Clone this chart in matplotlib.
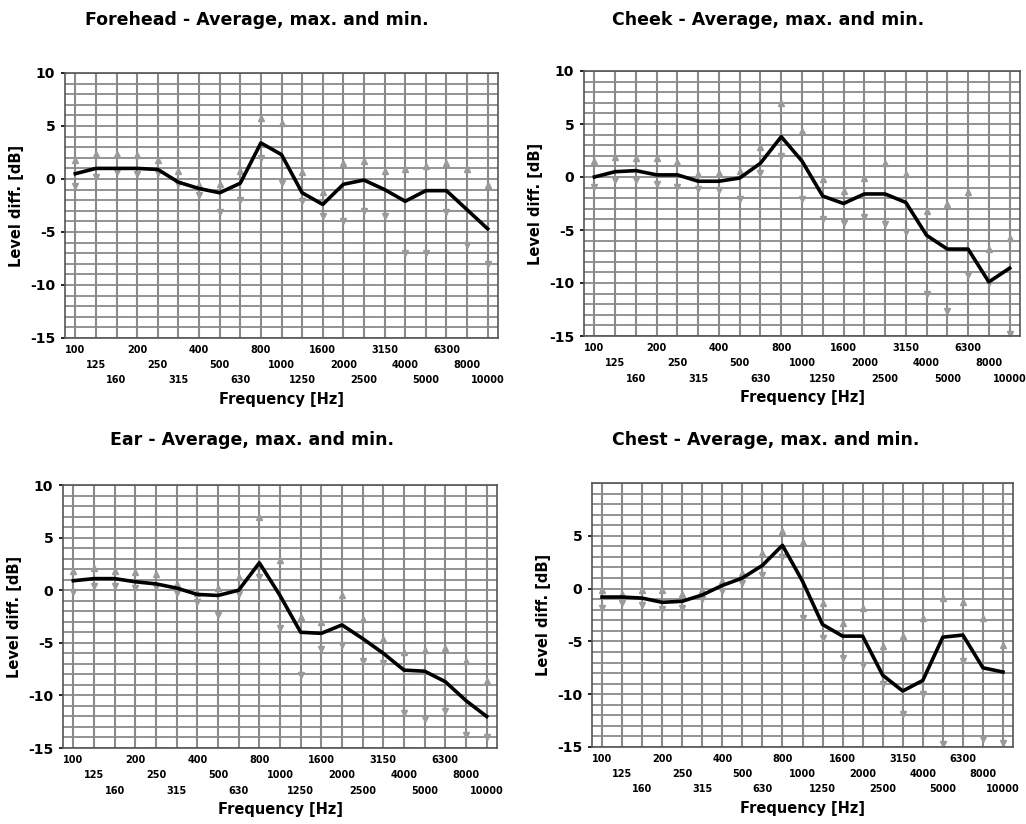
import matplotlib

matplotlib.use("Agg")
import matplotlib.pyplot as plt
import numpy as np

# third-octave band centre frequencies
BANDS = ["100", "125", "160", "200", "250", "315", "400", "500", "630", "800",
         "1000", "1250", "1600", "2000", "2500", "3150", "4000", "5000", "6300",
         "8000", "10000"]

# level difference per band [dB]
forehead_avg = [0.5, 1.0, 1.0, 1.0, 0.9, -0.3, -0.9, -1.3, -0.4, 3.4, 2.3, -1.3, -2.4,
                -0.5, -0.1, -1.0, -2.1, -1.1, -1.1, -2.9, -4.7]
forehead_max = [1.8, 2.4, 2.4, 2.3, 1.8, 0.8, -0.6, -0.5, 0.8, 5.8, 5.3, 0.7, -1.2,
                1.5, 1.7, 0.8, 0.9, 1.2, 1.5, 0.9, -0.6]
forehead_min = [-0.7, 0.2, 0.7, 0.5, 0.6, -0.5, -1.5, -3.1, -2.0, 2.0, -0.4, -2.1, -3.5,
                -4.0, -3.0, -3.5, -7.0, -7.0, -3.1, -6.2, -8.0]

cheek_avg = [0.0, 0.5, 0.6, 0.2, 0.2, -0.4, -0.4, -0.1, 1.3, 3.8, 1.5, -1.8, -2.5,
             -1.6, -1.6, -2.4, -5.5, -6.8, -6.8, -9.9, -8.6]
cheek_max = [1.5, 1.9, 1.8, 1.8, 1.4, 0.3, 0.4, 0.6, 2.8, 7.0, 4.3, -0.2, -1.3,
             -0.1, 1.3, 0.3, -3.2, -2.5, -1.4, -6.8, -5.8]
cheek_min = [-0.9, -0.3, -0.3, -0.7, -0.9, -1.1, -1.2, -2.1, 0.4, 2.0, -2.1, -4.0, -4.3,
             -3.8, -4.4, -5.2, -11.0, -12.6, -9.2, -10.0, -14.8]

ear_avg = [0.9, 1.1, 1.1, 0.8, 0.6, 0.2, -0.4, -0.5, 0.0, 2.6, -0.5, -4.0, -4.1,
           -3.3, -4.6, -6.0, -7.6, -7.7, -8.7, -10.5, -12.0]
ear_max = [1.8, 2.1, 1.8, 1.7, 1.5, 0.6, -0.3, 0.2, 1.3, 7.0, 2.9, -2.5, -3.0,
           -0.5, -2.7, -4.6, -5.9, -5.7, -5.5, -6.7, -8.6]
ear_min = [-0.2, 0.4, 0.4, 0.2, 0.3, -0.3, -1.1, -2.4, -0.4, 1.3, -3.6, -8.1, -5.6,
           -5.2, -6.7, -6.9, -11.7, -12.2, -11.5, -13.8, -14.0]

chest_avg = [-0.8, -0.8, -0.9, -1.3, -1.2, -0.6, 0.3, 1.0, 2.2, 4.1, 0.7, -3.4, -4.5,
             -4.5, -8.2, -9.7, -8.7, -4.6, -4.4, -7.5, -7.9]
chest_max = [-0.1, -0.5, -0.1, -0.1, -0.5, -0.1, 0.7, 1.5, 3.4, 5.5, 4.4, -1.4, -3.3,
             -1.8, -5.4, -4.5, -2.8, -0.9, -1.3, -2.8, -5.3]
chest_min = [-1.8, -1.4, -1.6, -1.9, -1.8, -1.0, -0.2, 0.5, 1.3, 3.0, -2.8, -4.7, -6.6,
             -7.2, -9.0, -11.9, -10.0, -14.7, -6.9, -14.2, -14.6]

W, H = 1026, 824

PANELS = [
    ("Forehead", forehead_avg, forehead_max, forehead_min, (65, 73, 498, 338), [-15, -10, -5, 0, 5, 10], (257, 20)),
    ("Cheek", cheek_avg, cheek_max, cheek_min, (584, 71, 1020, 336), [-15, -10, -5, 0, 5, 10], (768, 20)),
    ("Ear", ear_avg, ear_max, ear_min, (63, 485, 497, 748), [-15, -10, -5, 0, 5, 10], (252, 440)),
    ("Chest", chest_avg, chest_max, chest_min, (592, 483, 1013, 747), [-15, -10, -5, 0, 5], (766, 440)),
]

GRID = "#8a8a8a"
MARK = "#9a9a9a"


def draw_panel(fig, name, avg, vmax, vmin, box, yticks, title_xy):
    x0, y0, x1, y1 = box
    ax = fig.add_axes([x0 / W, 1 - y1 / H, (x1 - x0) / W, (y1 - y0) / H])
    x = np.arange(len(BANDS))

    ax.set_xlim(-0.5, len(BANDS) - 0.5)
    ax.set_ylim(-15, 10)

    # 1 dB horizontal grid and one vertical line per band
    for yv in range(-15, 11):
        ax.axhline(yv, color=GRID, lw=1.3, zorder=1)
    for xv in x:
        ax.axvline(xv, color=GRID, lw=1.5, zorder=1)

    ax.plot(x, vmax, linestyle="none", marker="^", ms=5, color=MARK, zorder=2)
    ax.plot(x, vmin, linestyle="none", marker="v", ms=5, color=MARK, zorder=2)
    ax.plot(x, avg, color="black", lw=2.6, solid_joinstyle="round", zorder=3)

    # staggered band labels in three rows under the axis
    ax.set_xticks(x)
    ax.set_xticklabels([])
    ax.tick_params(axis="x", length=0)
    for i, b in enumerate(BANDS):
        ax.annotate(b, xy=(i, 0), xycoords=("data", "axes fraction"),
                    xytext=(0, -5 - 11 * (i % 3)), textcoords="offset points",
                    ha="center", va="top", fontsize=7, fontweight="bold")

    ax.set_yticks(yticks)
    ax.set_yticklabels([str(v) for v in yticks], fontsize=10, fontweight="bold")
    ax.tick_params(axis="y", length=3, width=1.2, pad=4)

    for sp in ax.spines.values():
        sp.set_color("#555555")
        sp.set_linewidth(1.2)

    ax.annotate("Frequency [Hz]", xy=(0.5, 0), xycoords="axes fraction",
                xytext=(0, -39), textcoords="offset points",
                ha="center", va="top", fontsize=10.5, fontweight="bold")
    ax.set_ylabel("Level diff. [dB]", fontsize=10.5, fontweight="bold", labelpad=4)

    tx, ty = title_xy
    fig.text(tx / W, 1 - ty / H, f"{name} - Average, max. and min.",
             ha="center", va="center", fontsize=12.5, fontweight="bold")
    return ax


fig = plt.figure(figsize=(W / 100, H / 100), dpi=100)
for name, avg, vmax, vmin, box, yticks, title_xy in PANELS:
    draw_panel(fig, name, avg, vmax, vmin, box, yticks, title_xy)

fig.savefig("out.png", dpi=100, facecolor="white")
